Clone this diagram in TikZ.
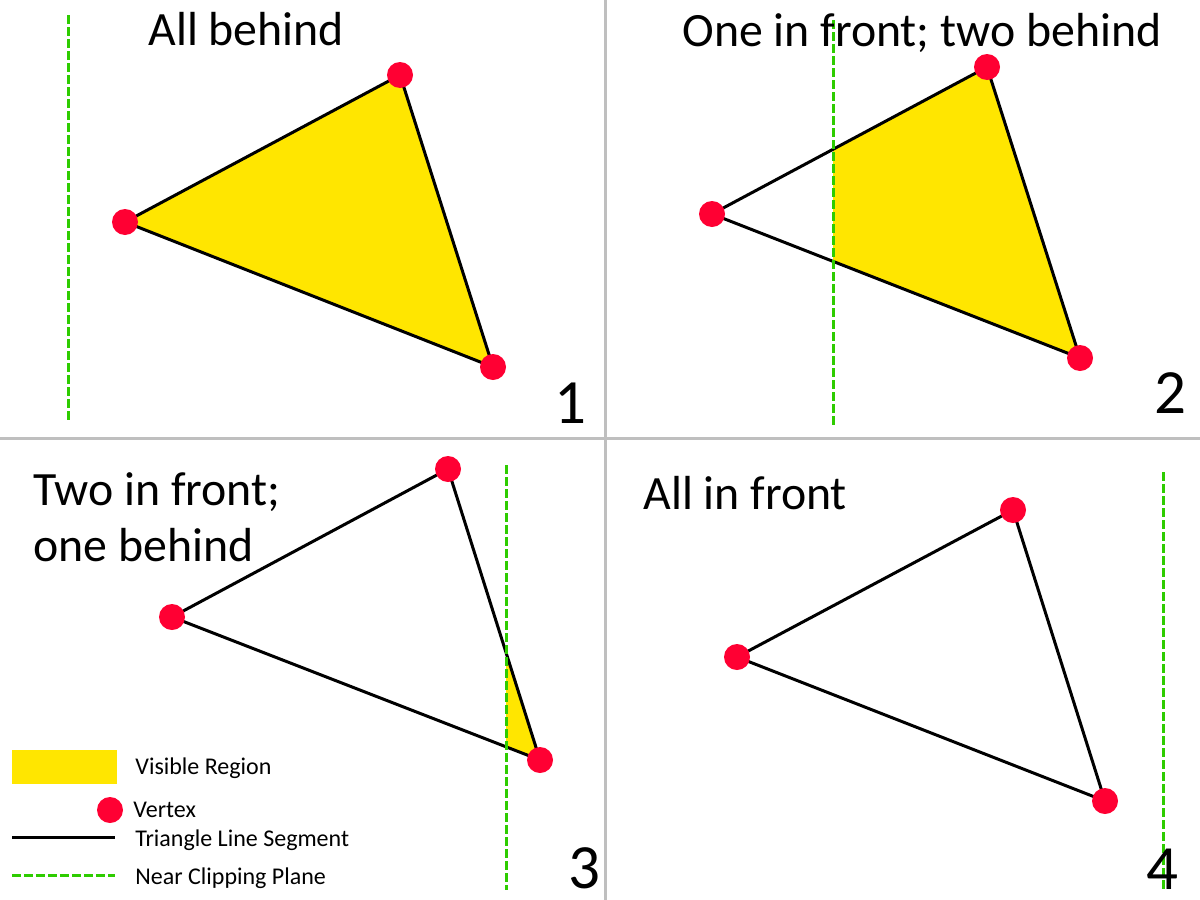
\documentclass[tikz,border=0pt]{standalone}
\usepackage{fontspec}
\setmainfont{Carlito}
\definecolor{vis}{HTML}{FFE600}
\definecolor{vred}{HTML}{FF0033}
\definecolor{plane}{HTML}{2ECC00}
\definecolor{divider}{HTML}{BFBFBF}
\tikzset{
  edge/.style={black,line width=1.5pt,line join=round},
  clipplane/.style={plane,line width=1.5pt,dash pattern=on 4.5pt off 1.5pt},
  vertex/.style={circle,fill=vred,inner sep=0pt,minimum size=13pt},
  title/.style={anchor=base west,inner sep=0pt,font=\fontsize{23.9}{28}\selectfont},
  num/.style={anchor=base west,inner sep=0pt,font=\fontsize{31.5}{36}\selectfont},
  legend/.style={anchor=base west,inner sep=0pt,font=\fontsize{12}{14}\selectfont},
  div/.style={divider,line width=1.5pt}
}
\begin{document}
\begin{tikzpicture}[x=0.5pt,y=-0.5pt]
\useasboundingbox (0,0) rectangle (1200,900);
\fill[white] (0,0) rectangle (1200,900);
% dividers
\coordinate (dvt) at (605,0); \coordinate (dvb) at (605,900);
\coordinate (dhl) at (0,438); \coordinate (dhr) at (1200,438);
\draw[div] (dvt) -- (dvb);
\draw[div] (dhl) -- (dhr);

% ---------- panel 1
\coordinate (a1) at (125,222); \coordinate (b1) at (400,75); \coordinate (c1) at (493,367);
\coordinate (pt1) at (68,15); \coordinate (pb1) at (68,420);
\fill[vis] (a1) -- (b1) -- (c1) -- cycle;
\draw[edge] (a1) -- (b1) -- (c1) -- cycle;
\draw[clipplane] (pt1) -- (pb1);
\node[vertex] (va1) at (a1) {}; \node[vertex] (vb1) at (b1) {}; \node[vertex] (vc1) at (c1) {};
\node[title] (t1) at (148,45) {All behind};
\node[num] (n1) at (554,423) {1};

% ---------- panel 2
\coordinate (a2) at (712,214); \coordinate (b2) at (987,67); \coordinate (c2) at (1080,358);
\coordinate (pt2) at (833,20); \coordinate (pb2) at (833,425);
\begin{scope}
\clip (833,0) rectangle (1200,438);
\fill[vis] (a2) -- (b2) -- (c2) -- cycle;
\end{scope}
\draw[edge] (a2) -- (b2) -- (c2) -- cycle;
\draw[clipplane] (pt2) -- (pb2);
\node[vertex] (va2) at (a2) {}; \node[vertex] (vb2) at (b2) {}; \node[vertex] (vc2) at (c2) {};
\node[title] (t2) at (682,46) {One in front; two behind};
\node[num] (n2) at (1154,413) {2};

% ---------- panel 3
\coordinate (a3) at (172,617); \coordinate (b3) at (448,469); \coordinate (c3) at (540,760);
\coordinate (pt3) at (506,465); \coordinate (pb3) at (506,890);
\begin{scope}
\clip (506,440) rectangle (605,900);
\fill[vis] (a3) -- (b3) -- (c3) -- cycle;
\end{scope}
\draw[edge] (a3) -- (b3) -- (c3) -- cycle;
\draw[clipplane] (pt3) -- (pb3);
\node[vertex] (va3) at (a3) {}; \node[vertex] (vb3) at (b3) {}; \node[vertex] (vc3) at (c3) {};
\node[title] (t3a) at (33,505) {Two in front;};
\node[title] (t3b) at (33,561) {one behind};
\node[num] (n3) at (568,888) {3};

% ---------- panel 4
\coordinate (a4) at (737,657); \coordinate (b4) at (1013,510); \coordinate (c4) at (1105,801);
\coordinate (pt4) at (1163,472); \coordinate (pb4) at (1163,890);
\draw[edge] (a4) -- (b4) -- (c4) -- cycle;
\draw[clipplane] (pt4) -- (pb4);
\node[vertex] (va4) at (a4) {}; \node[vertex] (vb4) at (b4) {}; \node[vertex] (vc4) at (c4) {};
\node[title] (t4) at (643,509) {All in front};
\node[num] (n4) at (1146,889) {4};

% ---------- legend
\fill[vis] (12,750) rectangle (117,784);
\node[legend] (l1) at (135,774) {Visible Region};
\node[vertex] (lv) at (110,810) {};
\node[legend] (l2) at (133,817) {Vertex};
\coordinate (ls1) at (12,837); \coordinate (ls2) at (115,837);
\draw[edge] (ls1) -- (ls2);
\node[legend] (l3) at (135,846) {Triangle Line Segment};
\coordinate (lp1) at (12,875); \coordinate (lp2) at (115,875);
\draw[clipplane] (lp1) -- (lp2);
\node[legend] (l4) at (135,884) {Near Clipping Plane};
\end{tikzpicture}
\end{document}
